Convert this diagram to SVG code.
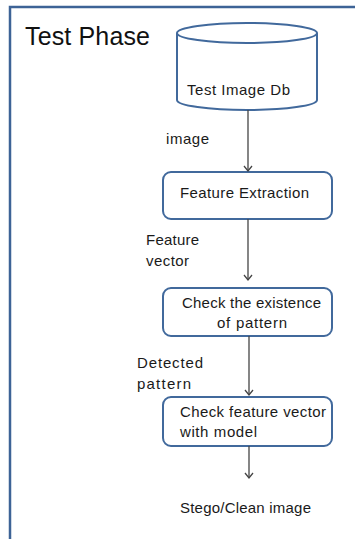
<svg xmlns="http://www.w3.org/2000/svg" width="355" height="539" viewBox="0 0 355 539">
<style>
.frame{fill:#fff;stroke:#3d6396;stroke-width:2.5}
.box{fill:#fff;stroke:#41699c;stroke-width:2}
.t{font-family:"Liberation Sans",Arial,sans-serif;font-size:15px;fill:#1a1a1a}
.title{font-family:"Liberation Sans",Arial,sans-serif;font-size:25px;fill:#111}
.conn line{stroke:#444;stroke-width:1.3}
.head{fill:none;stroke:#444;stroke-width:1.3}
</style>
<defs>
<marker id="arr" markerWidth="12" markerHeight="12" refX="6" refY="6" orient="auto" markerUnits="userSpaceOnUse">
<path class="head" d="M1,2 L6,6 L1,10"/>
</marker>
</defs>
<rect width="355" height="539" fill="#fff"/>
<rect class="frame" x="10" y="7" width="360" height="550"/>
<text class="title" x="25" y="45" textLength="125">Test Phase</text>
<g id="db">
<path class="box" d="M177,33 V100 A70,10 0 0 0 317,100 V33"/>
<ellipse class="box" cx="247" cy="33" rx="70" ry="10"/>
<text class="t" x="187" y="95" textLength="103">Test  Image Db</text>
</g>
<g id="n1">
<rect class="box" x="163" y="172" width="169" height="47" rx="8"/>
<text class="t" x="180" y="198" textLength="129">Feature Extraction</text>
</g>
<g id="n2">
<rect class="box" x="163" y="288" width="169" height="48" rx="8"/>
<text class="t" x="182" y="308" textLength="139">Check the existence</text>
<text class="t" x="217" y="328" textLength="70">of pattern</text>
</g>
<g id="n3">
<rect class="box" x="163" y="397" width="169" height="49" rx="8"/>
<text class="t" x="180" y="417" textLength="146">Check feature vector</text>
<text class="t" x="180" y="437" textLength="77">with model</text>
</g>
<g id="out">
<text class="t" x="180" y="513" textLength="131">Stego/Clean image</text>
</g>
<g class="conn">
<line x1="248" y1="110" x2="248" y2="171" marker-end="url(#arr)"/>
<line x1="248" y1="219" x2="248" y2="280" marker-end="url(#arr)"/>
<line x1="249" y1="336" x2="249" y2="395" marker-end="url(#arr)"/>
<line x1="249" y1="446" x2="249" y2="478" marker-end="url(#arr)"/>
</g>
<g id="labels">
<text class="t" x="166" y="144" textLength="43">image</text>
<text class="t" x="146" y="245" textLength="53">Feature</text>
<text class="t" x="146" y="266" textLength="43">vector</text>
<text class="t" x="137" y="368" textLength="66">Detected</text>
<text class="t" x="137" y="389" textLength="54">pattern</text>
</g>
</svg>
